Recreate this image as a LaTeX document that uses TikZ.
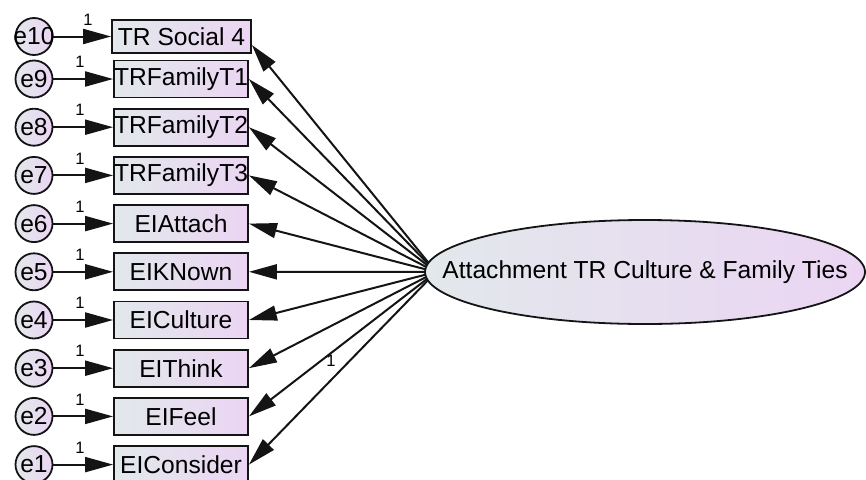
\documentclass[tikz,border=0pt]{standalone}
\usepackage{fontspec}
\setmainfont{Liberation Sans}
\usetikzlibrary{arrows.meta,backgrounds,shapes.geometric}
\definecolor{shadeL}{RGB}{226,232,236}
\definecolor{shadeR}{RGB}{235,213,243}
\definecolor{edge}{RGB}{20,20,20}
\tikzset{
  txt/.style={font=\fontsize{24.6}{28}\selectfont},
  obs/.style={txt, draw=edge, line width=1.8pt, left color=shadeL, right color=shadeR,
    minimum width=134pt, minimum height=37pt, inner sep=0pt},
  err/.style={txt, circle, draw=edge, line width=1.8pt, left color=shadeL, right color=shadeR,
    minimum size=37pt, inner sep=0pt},
  latent/.style={txt, ellipse, draw=edge, line width=1.8pt, left color=shadeL, right color=shadeR,
    minimum width=440pt, minimum height=104pt, inner sep=0pt},
  link/.style={draw=edge, line width=2pt, -{Triangle[length=28pt,width=15pt]}},
  one/.style={font=\fontsize{16.5}{19}\selectfont, inner sep=0pt}
}
\begin{document}
\begin{tikzpicture}[x=1pt,y=-1pt]
\useasboundingbox (0,0) rectangle (866,479);

% latent factor
\node[latent] (lat) at (645,272) {\makebox[0pt]{Attachment TR Culture \& Family Ties}};
\coordinate (focus) at (436,272);

% top indicator (slightly larger box)
\node[obs, minimum width=139pt, minimum height=33pt] (v10) at (181.5,36.5) {\makebox[0pt]{TR Social 4}};
\node[err] (e10) at (34,36.5) {\makebox[0pt]{e10}};
\draw[link] (e10) -- (v10);
\node[one] at (88,20) {1};

% remaining indicators with their error terms
\foreach \i/\y/\t in {9/79/TRFamilyT1, 8/127.2/TRFamilyT2, 7/175.4/TRFamilyT3,
    6/223.6/EIAttach, 5/271.8/EIKNown, 4/320/EICulture, 3/368.2/EIThink,
    2/416.4/EIFeel, 1/464.6/EIConsider}{
  \node[obs] (v\i) at (181,\y) {\makebox[0pt]{\t}};
  \node[err] (e\i) at (34,\y) {\makebox[0pt]{e\i}};
  \draw[link] (e\i) -- (v\i);
  \node[one] at (80,\y-17) {1};
}

% factor loadings, drawn behind the ellipse
\begin{scope}[on background layer]
  \draw[link] (focus) -- ([yshift=-8.5pt]v10.east);
  \foreach \i in {1,...,9}{
    \draw[link] (focus) -- (v\i.east);
  }
\end{scope}
\node[one] at (331,361) {1};
\end{tikzpicture}
\end{document}
